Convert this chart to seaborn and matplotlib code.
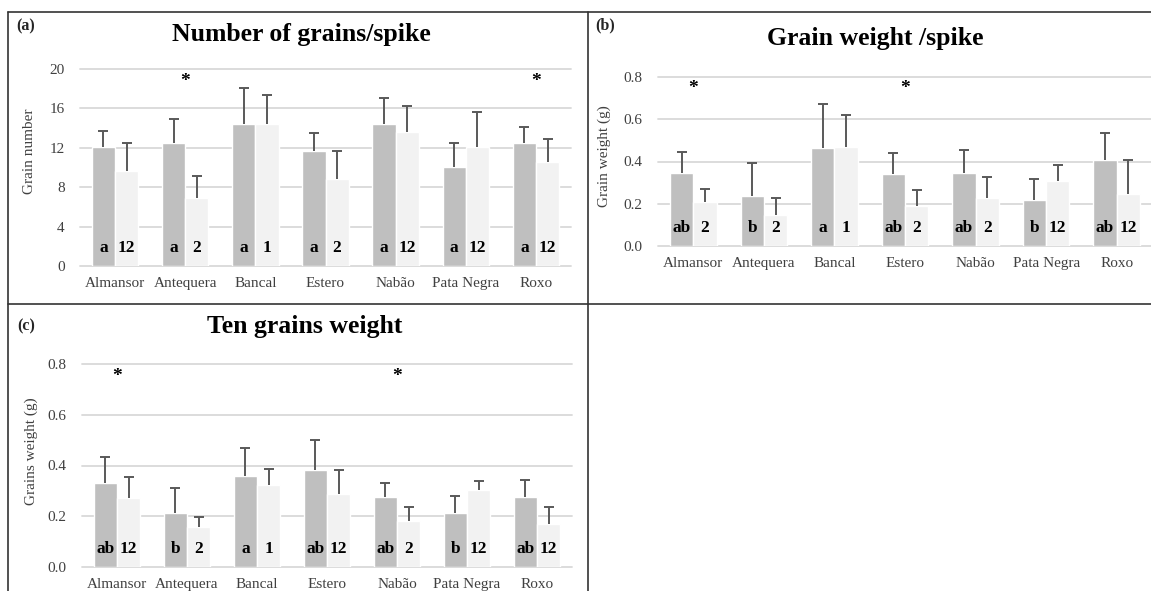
import numpy as np
import pandas as pd
import seaborn as sns
import matplotlib
matplotlib.use("Agg")
import matplotlib.pyplot as plt
from matplotlib.lines import Line2D

cultivars = ["Almansor", "Antequera", "Bancal", "Estero", "Nabão", "Pata Negra", "Roxo"]

# (a) number of grains per spike
grains_a = [12.1, 12.5, 14.4, 11.7, 14.4, 10.0, 12.5]
grains_a_err = [1.6, 2.4, 3.7, 1.8, 2.7, 2.5, 1.6]
grains_b = [9.6, 6.9, 14.4, 8.8, 13.6, 12.1, 10.6]
grains_b_err = [2.9, 2.2, 3.0, 2.9, 2.6, 3.5, 2.3]
grains_letters = ["a", "a", "a", "a", "a", "a", "a"]
grains_groups = ["12", "2", "1", "2", "12", "12", "12"]
grains_stars = ["Antequera", "Roxo"]

# (b) grain weight per spike
weight_a = [0.347, 0.239, 0.464, 0.339, 0.347, 0.220, 0.407]
weight_a_err = [0.098, 0.156, 0.206, 0.100, 0.109, 0.099, 0.130]
weight_b = [0.209, 0.146, 0.471, 0.189, 0.228, 0.309, 0.246]
weight_b_err = [0.060, 0.079, 0.149, 0.074, 0.098, 0.075, 0.160]
weight_letters = ["ab", "b", "a", "ab", "ab", "b", "ab"]
weight_groups = ["2", "2", "1", "2", "2", "12", "12"]
weight_stars = ["Almansor", "Estero"]

# (c) ten grains weight
ten_a = [0.333, 0.214, 0.360, 0.381, 0.277, 0.214, 0.277]
ten_a_err = [0.099, 0.098, 0.108, 0.119, 0.055, 0.067, 0.067]
ten_b = [0.273, 0.158, 0.323, 0.287, 0.183, 0.303, 0.169]
ten_b_err = [0.080, 0.041, 0.063, 0.094, 0.052, 0.036, 0.066]
ten_letters = ["ab", "b", "a", "ab", "ab", "b", "ab"]
ten_groups = ["12", "2", "1", "12", "2", "12", "12"]
ten_stars = ["Almansor", "Nabão"]

DARK = "#BFBFBF"
LIGHT = "#F2F2F2"
GRID = "#D9D9D9"
ERR = "#595959"
TXT = "#404040"

sns.set_theme(style="white")
plt.rcParams["font.family"] = ["Liberation Serif", "DejaVu Serif"]

W, H = 1151, 591
fig = plt.figure(figsize=(W / 100, H / 100), dpi=100)


def px_axes(left, right, top, bottom):
    return fig.add_axes([left / W, 1 - bottom / H, (right - left) / W, (bottom - top) / H])


def panel(ax, va, va_err, vb, vb_err, letters, groups, stars, ymax, ystep, ylabel, fmt, lab_y):
    df = pd.DataFrame({
        "cultivar": cultivars * 2,
        "series": ["first"] * 7 + ["second"] * 7,
        "value": list(va) + list(vb),
    })
    sns.barplot(data=df, x="cultivar", y="value", hue="series", order=cultivars,
                palette=[DARK, LIGHT], saturation=1, width=0.66, gap=0,
                errorbar=None, legend=False, ax=ax)
    for cont, vals, errs, labels in zip(ax.containers, [va, vb], [va_err, vb_err], [letters, groups]):
        xs = [b.get_x() + b.get_width() / 2 for b in cont]
        eb = ax.errorbar(xs, vals, yerr=[np.zeros(len(errs)), errs], fmt="none",
                         ecolor=ERR, elinewidth=1.4, capsize=3.3, capthick=1.4, zorder=3)
        # plus-only bars: hide the cap sitting on the bar top
        eb[1][0].set_visible(False)
        for x, lab in zip(xs, labels):
            ax.annotate(lab, (x, 0), xytext=(0, 13), textcoords="offset points",
                        ha="center", va="center", fontsize=12.5, fontweight="bold",
                        color="black")
    for s in stars:
        ax.annotate("*", (cultivars.index(s), ymax * 0.957), xytext=(0, -6),
                    textcoords="offset points", ha="center", va="baseline",
                    fontsize=14, fontweight="bold", color="black")
    ax.set_ylim(0, ymax)
    ax.set_xlim(-0.5, 6.5)
    ticks = np.arange(0, ymax + ystep / 2, ystep)
    ax.set_yticks(ticks)
    ax.set_yticklabels([fmt % t for t in ticks])
    ax.yaxis.grid(True, color=GRID, lw=1.3)
    for gl in ax.get_ygridlines():
        gl.set_clip_on(False)
    ax.set_axisbelow(True)
    for sp in ax.spines.values():
        sp.set_visible(False)
    ax.tick_params(axis="both", length=0, labelsize=11, labelcolor=TXT)
    ax.tick_params(axis="y", pad=11)
    ax.tick_params(axis="x", pad=8)
    ax.set_xlabel("")
    ax.set_ylabel(ylabel, fontsize=11, color=TXT)
    ax.yaxis.set_label_coords(*lab_y)


ax_a = px_axes(80, 571, 69, 266)
panel(ax_a, grains_a, grains_a_err, grains_b, grains_b_err, grains_letters, grains_groups,
      grains_stars, 20, 4, "Grain number", "%d", (-0.09, 0.58))

ax_b = px_axes(658, 1152, 77, 246)
panel(ax_b, weight_a, weight_a_err, weight_b, weight_b_err, weight_letters, weight_groups,
      weight_stars, 0.8, 0.2, "Grain weight (g)", "%.1f", (-0.095, 0.53))

ax_c = px_axes(82, 572, 364, 567)
panel(ax_c, ten_a, ten_a_err, ten_b, ten_b_err, ten_letters, ten_groups,
      ten_stars, 0.8, 0.2, "Grains weight (g)", "%.1f", (-0.09, 0.57))

# titles and panel tags
fig.text(301 / W, 1 - 35 / H, "Number of grains/spike", ha="center", va="center",
         fontsize=18.5, fontweight="bold", color="black")
fig.text(875 / W, 1 - 39 / H, "Grain weight /spike", ha="center", va="center",
         fontsize=18.5, fontweight="bold", color="black")
fig.text(305 / W, 1 - 326 / H, "Ten grains weight", ha="center", va="center",
         fontsize=18.5, fontweight="bold", color="black")
fig.text(16 / W, 1 - 26 / H, "(a)", ha="left", va="center", fontsize=11.5, fontweight="bold")
fig.text(595 / W, 1 - 25 / H, "(b)", ha="left", va="center", fontsize=11.5, fontweight="bold")
fig.text(17 / W, 1 - 326 / H, "(c)", ha="left", va="center", fontsize=11.5, fontweight="bold")

# panel frames
def frame_line(x0, y0, x1, y1):
    fig.add_artist(Line2D([x0 / W, x1 / W], [1 - y0 / H, 1 - y1 / H],
                          color="#333333", lw=1.2, transform=fig.transFigure))

frame_line(8, 12, W, 12)
frame_line(8, 12, 8, H)
frame_line(588, 12, 588, H)
frame_line(8, 304, W, 304)

fig.savefig("out.png", dpi=100)
